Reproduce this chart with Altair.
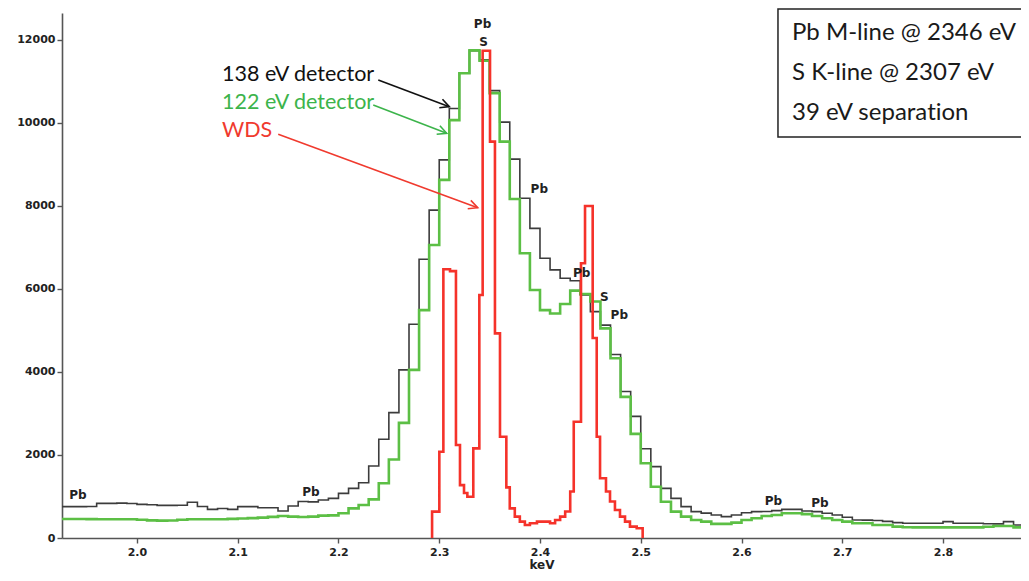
import altair as alt
import pandas as pd
import numpy as np

# ---------------- data ----------------
bin_start = 1.92
bin_width = 0.01

black_counts = [
    755, 755, 755, 760, 835, 835, 840, 830, 810, 800,
    785, 785, 790, 860, 760, 690, 710, 690, 755, 755,
    730, 730, 650, 770, 880, 870, 915, 955, 1075, 1195,
    1330, 1735, 2380, 3020, 4050, 5150, 6715, 7900, 9110, 10350,
    11200, 11740, 11520, 10780, 10020, 9130, 8185, 7460, 6740, 6460,
    6260, 6200, 5855, 5455, 5130, 4420, 3530, 2930, 2150, 1720,
    1195, 955, 755, 635, 600, 555, 515, 555, 610, 635,
    640, 660, 690, 690, 650, 635, 595, 555, 500, 435,
    430, 420, 400, 370, 355, 355, 355, 355, 395, 355,
    355, 355, 345, 340, 395, 315,
]

green_counts = [
    458, 458, 458, 455, 450, 450, 450, 450, 440, 425,
    418, 420, 440, 450, 450, 450, 450, 460, 470, 480,
    490, 510, 530, 515, 505, 515, 540, 545, 595, 715,
    795, 930, 1320, 1890, 2775, 4050, 5490, 7060, 8630, 10070,
    11200, 11750, 11500, 10720, 9550, 8170, 6860, 5975, 5490, 5410,
    5640, 5960, 5880, 5700, 5050, 4330, 3400, 2510, 1800, 1235,
    875, 635, 515, 435, 395, 340, 340, 370, 435, 475,
    530, 555, 595, 595, 575, 530, 475, 435, 395, 355,
    355, 315, 315, 275, 260, 255, 255, 255, 255, 255,
    255, 255, 270, 290, 290, 255,
]

wds_edges = [
    2.2929, 2.2929, 2.3001, 2.3041, 2.3107, 2.3166, 2.3206, 2.3246, 2.3279, 2.3338,
    2.3398, 2.3431, 2.3504, 2.3553, 2.3603, 2.3666, 2.3700, 2.3750, 2.3800, 2.3850,
    2.3900, 2.3970, 2.4100, 2.4150, 2.4200, 2.4250, 2.4300, 2.4335, 2.4407, 2.4447,
    2.4523, 2.4563, 2.4596, 2.4655, 2.4695, 2.4744, 2.4794, 2.4844, 2.4893, 2.4960,
    2.5019,
]
wds_counts = [
    0, 635, 2080, 6475, 6430, 2240, 1275, 1085, 995, 2160,
    5855, 11740, 9550, 4930, 2440, 1220, 715, 515, 395, 315,
    355, 395, 355, 435, 515, 640, 1120, 2800, 6620, 8000,
    4820, 2440, 1440, 1120, 880, 675, 515, 395, 275, 235,
    0,
]

# peak labels
pk_x = [1.9414, 2.1727, 2.3430, 2.3440, 2.3993, 2.4414, 2.4638, 2.4787, 2.6316, 2.6779]
pk_y = [1036, 1108, 12386, 11960, 8402, 6393, 5815, 5373, 899, 851]
pk_text = ["Pb", "Pb", "Pb", "S", "Pb", "Pb", "S", "Pb", "Pb", "Pb"]

# annotation texts
ann_text = ["138 eV detector", "122 eV detector", "WDS"]
ann_color = ["#111111", "#3cb44b", "#f03a2e"]
ann_x = [2.0844, 2.0844, 2.0844]
ann_y = [11157, 10482, 9807]

# arrows
arr_x1 = [2.2395, 2.2345, 2.1402]
arr_y1 = [11036, 10434, 9728]
arr_x2 = [2.3100, 2.3074, 2.3382]
arr_y2 = [10393, 9752, 7959]
arr_angle = [20.6, 21.1, 20.2]

# info box (zero-width non-joiner keeps "ti" from becoming a ligature)
box_lines = ["Pb M-line @ 2346 eV", "S K-line @ 2307 eV", "39 eV separat\u200cion"]
box_line_y = [12169, 11205, 10241]
box_x = [2.6362]
box_x2 = [2.95]
box_y = [9663]
box_y2 = [12746]

y_ticks = [0, 2000, 4000, 6000, 8000, 10000, 12000]
x_ticks = [2.0, 2.1, 2.2, 2.3, 2.4, 2.5, 2.6, 2.7, 2.8]

# ---------------- tables ----------------
n = len(black_counts)
edges = [round(bin_start + bin_width * i, 4) for i in range(n + 1)]
det_black = pd.DataFrame({"keV": edges, "counts": black_counts + [black_counts[-1]]})
det_green = pd.DataFrame({"keV": edges, "counts": green_counts + [green_counts[-1]]})
wds = pd.DataFrame({"keV": wds_edges, "counts": wds_counts})

xs = alt.Scale(domain=[1.9256, 2.8774], nice=False, zero=False)
ys = alt.Scale(domain=[0, 12650], nice=False)

X = alt.X("keV:Q", scale=xs,
          axis=alt.Axis(values=x_ticks, format=".1f", title="keV"))
Y = alt.Y("counts:Q", scale=ys, axis=alt.Axis(values=y_ticks, format="d", title=None))

black = alt.Chart(det_black).mark_line(
    interpolate="step-after", color="#3c3c3c", strokeWidth=1.6, clip=True
).encode(x=X, y=Y)

green = alt.Chart(det_green).mark_line(
    interpolate="step-after", color="#5cbf45", strokeWidth=2.6, clip=True
).encode(x=X, y=Y)

red = alt.Chart(wds).mark_line(
    interpolate="step-after", color="#f5322a", strokeWidth=2.6, clip=True
).encode(x=X, y=Y)

pk = alt.Chart(pd.DataFrame({"keV": pk_x, "counts": pk_y, "t": pk_text})).mark_text(
    font="DejaVu Sans", fontWeight="bold", fontSize=12, color="#222222",
    baseline="middle", align="center"
).encode(x="keV:Q", y="counts:Q", text="t:N")

ann = alt.Chart(pd.DataFrame({"keV": ann_x, "counts": ann_y, "t": ann_text, "c": ann_color})).mark_text(
    font="Lato", fontSize=21.5, align="left", baseline="middle"
).encode(x="keV:Q", y="counts:Q", text="t:N", color=alt.Color("c:N", scale=None))

arr_df = pd.DataFrame({"keV": arr_x1, "counts": arr_y1, "x2": arr_x2, "y2": arr_y2,
                       "c": ann_color, "a": arr_angle})
arr_lines = alt.Chart(arr_df).mark_rule(strokeWidth=1.6).encode(
    x="keV:Q", y="counts:Q", x2="x2:Q", y2="y2:Q", color=alt.Color("c:N", scale=None))
arr_heads = alt.Chart(arr_df).mark_point(
    shape="M-1.8,-0.9L0,0L-1.8,0.9", filled=False, size=100, strokeWidth=1.6, opacity=1
).encode(x="x2:Q", y="y2:Q", color=alt.Color("c:N", scale=None),
         angle=alt.Angle("a:Q", scale=None))

box = alt.Chart(pd.DataFrame({"keV": box_x, "x2": box_x2, "counts": box_y, "y2": box_y2})).mark_rect(
    fill=None, fillOpacity=0, stroke="#222222", strokeWidth=1.5, clip=False
).encode(x="keV:Q", x2="x2:Q", y="counts:Q", y2="y2:Q")

box_txt = alt.Chart(pd.DataFrame({"keV": [2.6501] * 3, "counts": box_line_y, "t": box_lines})).mark_text(
    font="Lato", fontSize=24, align="left", baseline="middle", color="#1a1a1a"
).encode(x="keV:Q", y="counts:Q", text="t:N")

chart = alt.layer(black, green, red, pk, ann, arr_lines, arr_heads, box, box_txt).properties(
    width=959, height=525,
    autosize=alt.AutoSizeParams(type="none"),
    padding={"left": 54, "top": 5, "right": 0, "bottom": 35},
    background="white",
).configure_view(strokeWidth=0).configure_axis(
    grid=False,
    labelFont="DejaVu Sans", labelFontWeight="bold", labelFontSize=11, labelColor="#222222",
    titleFont="DejaVu Sans", titleFontWeight="bold", titleFontSize=12, titleColor="#222222",
    domainColor="#555555", domainWidth=1.6, tickColor="#555555", tickWidth=1.4, tickSize=5,
    labelPadding=2,
).configure_axisX(titlePadding=2, labelPadding=3)

chart.save("out.html", embed_options={"renderer": "svg", "actions": False})
